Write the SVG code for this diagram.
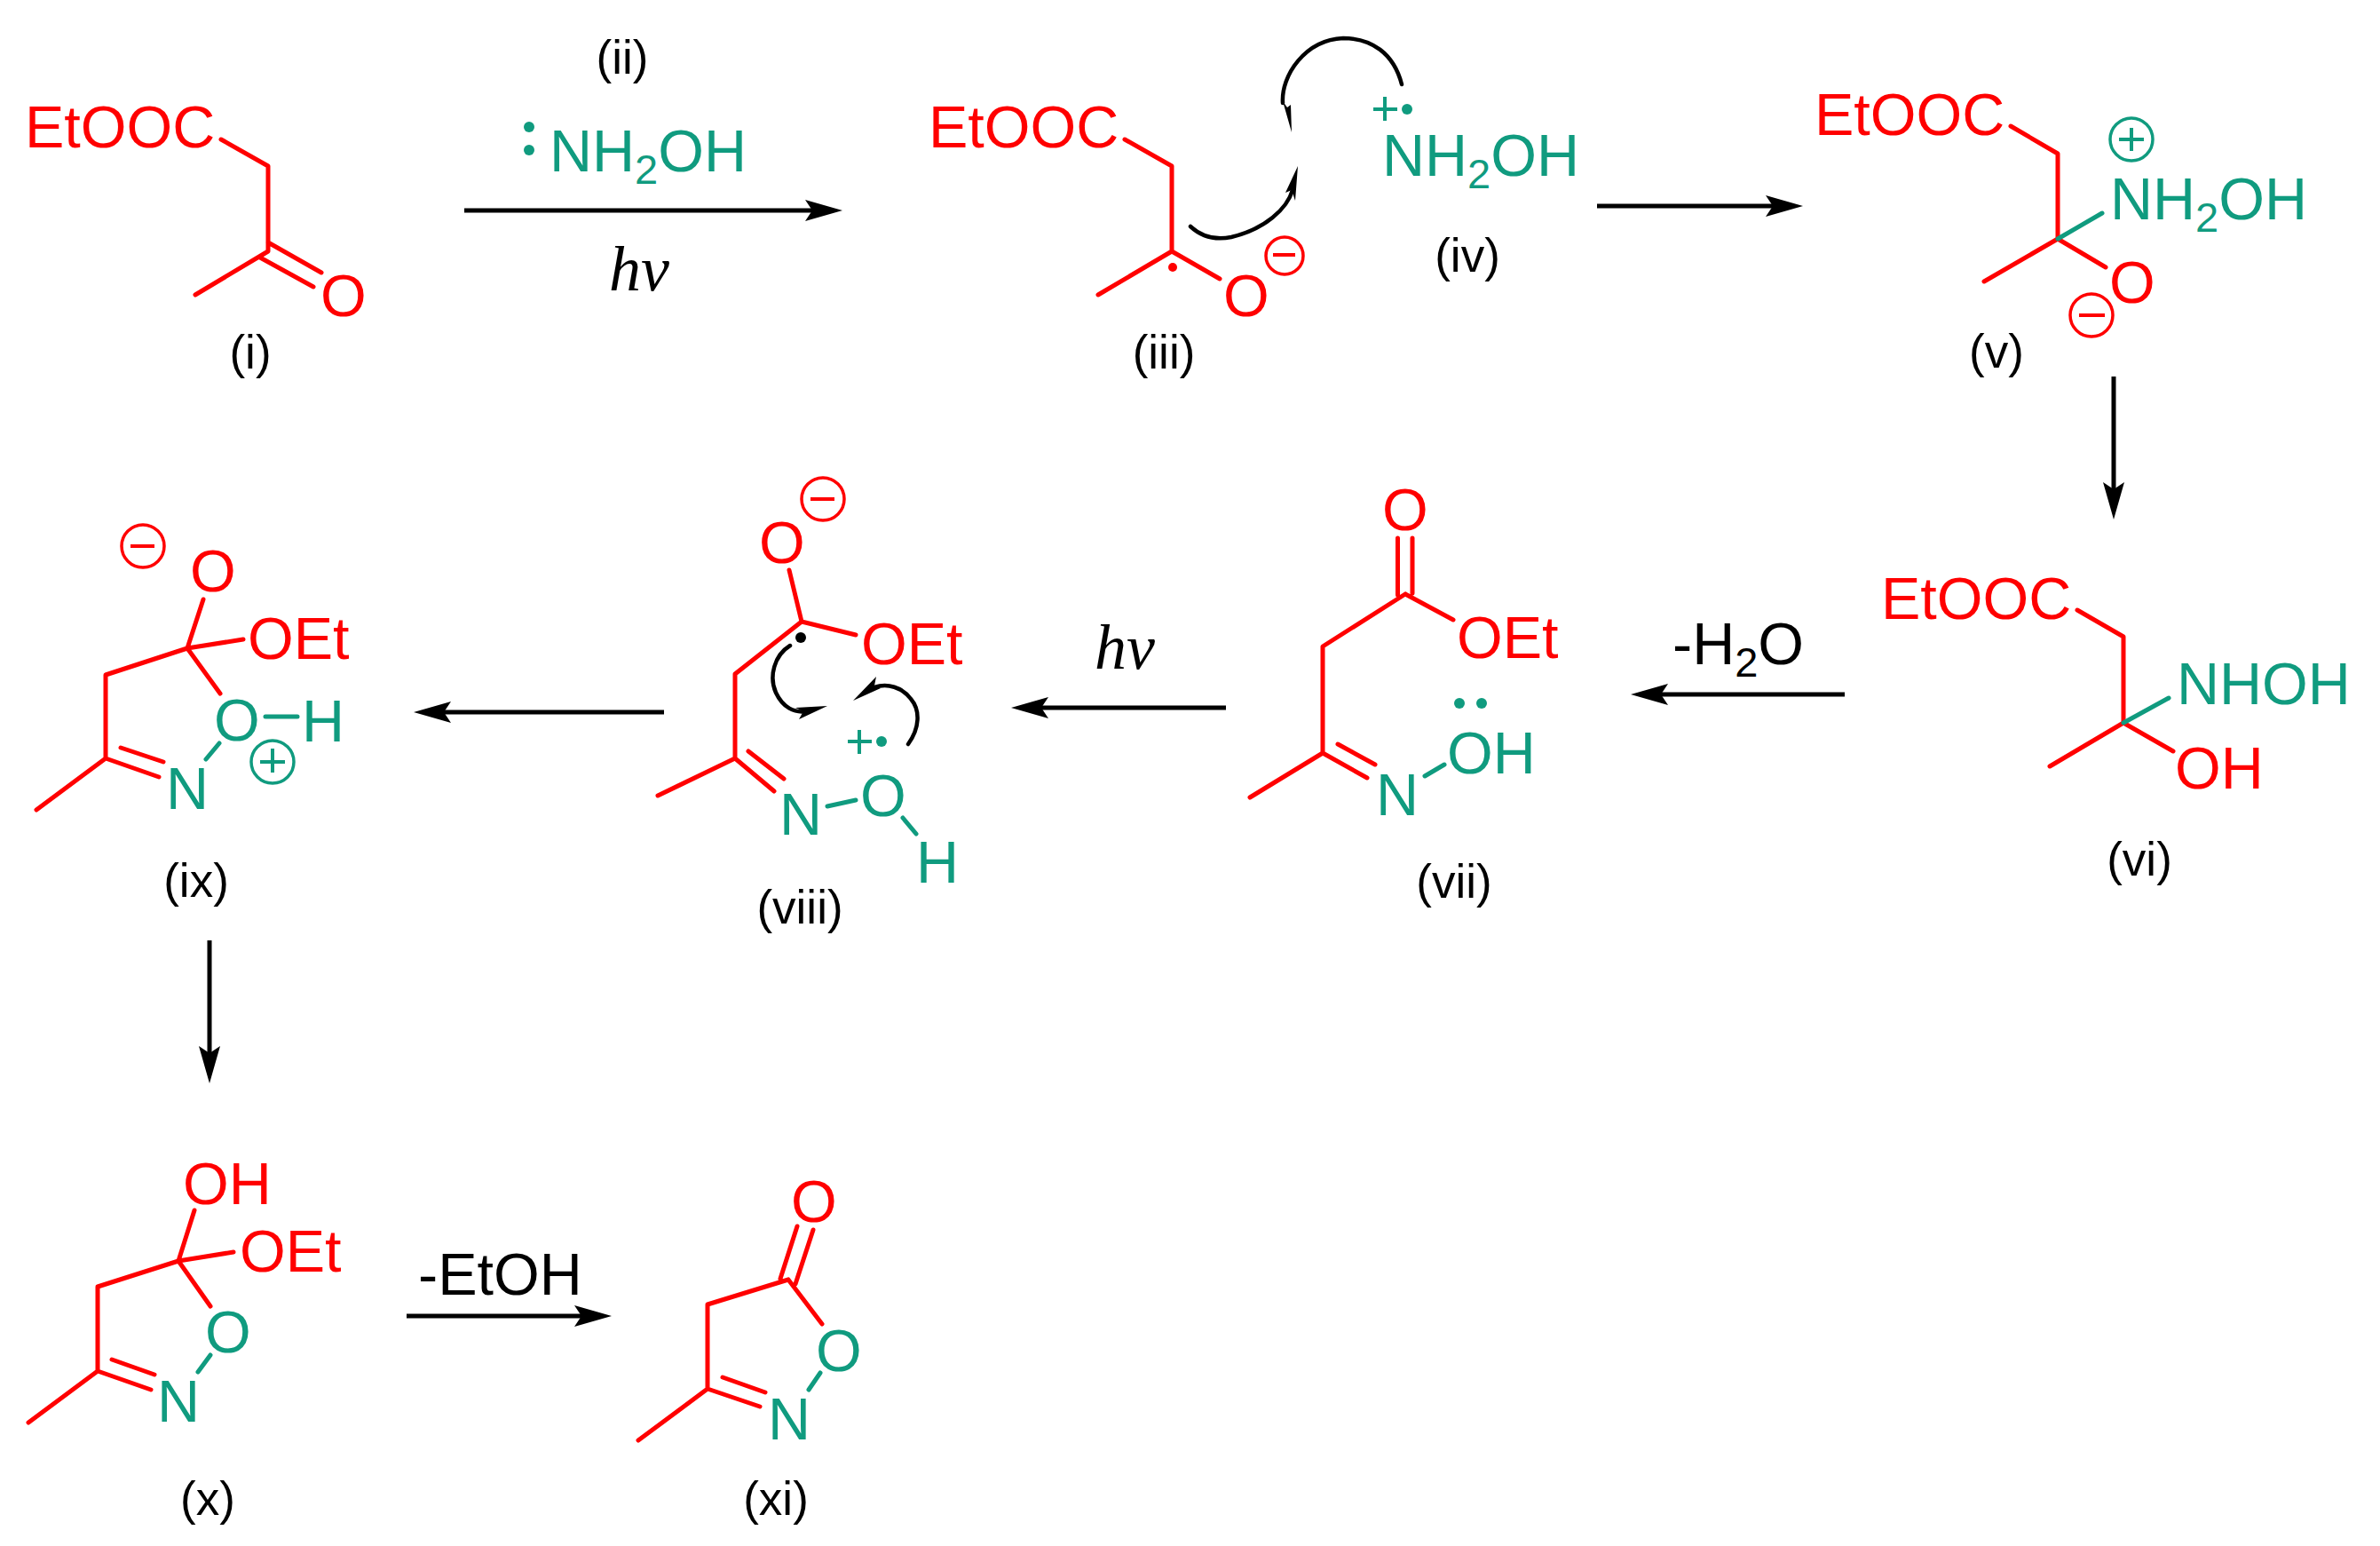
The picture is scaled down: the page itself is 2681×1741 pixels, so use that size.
<svg xmlns="http://www.w3.org/2000/svg" width="2681" height="1741" viewBox="0 0 2681 1741">
<style>
text{font-family:"Liberation Sans",Arial,sans-serif;font-size:66.500px}
.r{fill:#f00}.g{fill:#109b7f}
.lb{font-size:53px;fill:#000;text-anchor:middle}
.k{fill:#000}
.hv{font-family:"Liberation Serif","Times New Roman",serif;font-style:italic;font-size:72px;fill:#000}
.s{font-size:47px}
path.rb{fill:none;stroke:#f00;stroke-width:5;stroke-linecap:round;stroke-linejoin:round}
path.gb{fill:none;stroke:#109b7f;stroke-width:5;stroke-linecap:round}
.rc{fill:none;stroke:#f00;stroke-width:3.500}
.gc{fill:none;stroke:#109b7f;stroke-width:3.500}
.ra{fill:none;stroke:#000;stroke-width:5;marker-end:url(#h)}
.ca{fill:none;stroke:#000;stroke-width:4.500;stroke-linecap:round}
</style>
<defs>
<marker id="h" markerUnits="userSpaceOnUse" viewBox="0 0 42 24" refX="12" refY="12" markerWidth="42" markerHeight="24" orient="auto"><path d="M0 0L42 12L0 24L8 12Z" fill="#000"/></marker>
</defs>
<g id="connectors">
<path class="ra" d="M523 237H919"/>
<path class="ra" d="M1799 232H2001"/>
<path class="ra" d="M2381 424V555"/>
<path class="ra" d="M2078 782H1867"/>
<path class="ra" d="M1381 797H1169"/>
<path class="ra" d="M748 802H496"/>
<path class="ra" d="M236 1059V1190"/>
<path class="ra" d="M458 1482H659"/>
<path class="ca" d="M1341 255C1355 268 1372 270 1387 267C1425 258 1450 235 1456 214"/>
<path class="k" d="M1462 187L1459 226L1455 214L1448 217Z"/>
<path class="ca" d="M1579 95C1570 60 1545 43 1513 43C1470 45 1443 85 1445 116"/>
<path class="k" d="M1455 149L1445 114L1450 121L1454 118Z"/>
<path class="ca" d="M890 727C872 738 866 762 874 780C882 797 895 803 908 801"/>
<path class="k" d="M932 795L900 810L905 801L896 797Z"/>
<path class="ca" d="M1023 838C1036 820 1037 800 1026 787C1016 774 1000 769 985 774"/>
<path class="k" d="M961 789L987 762L985 772L992 775Z"/>
</g>
<g id="node-i">
<text class="r" x="28" y="166">EtOOC</text>
<path class="rb" d="M249 157L302 187V283L220 332M302 273L362 307M293 290L353 323"/>
<text class="r" x="361" y="356">O</text>
<text class="lb" x="282" y="415">(i)</text>
</g>
<g id="node-ii">
<text class="lb" x="701" y="83">(ii)</text>
<circle class="g" cx="596" cy="143" r="6"/><circle class="g" cx="596" cy="169" r="6"/>
<text class="g" x="619" y="193">NH<tspan class="s" dy="14">2</tspan><tspan dy="-14">OH</tspan></text>
<text class="hv" x="686" y="327">hν</text>
</g>
<g id="node-iii">
<text class="r" x="1046" y="166">EtOOC</text>
<path class="rb" d="M1267 157L1320 187V283L1237 332M1320 283L1374 314"/>
<circle class="r" cx="1321" cy="301" r="5"/>
<text class="r" x="1378" y="356">O</text>
<circle class="rc" cx="1447" cy="288" r="21"/><path d="M1434 287H1459" stroke="#f00" stroke-width="4"/>
<text class="lb" x="1311" y="415">(iii)</text>
</g>
<g id="node-iv">
<path d="M1547 123H1574M1560 109V136" stroke="#109b7f" stroke-width="4"/>
<circle class="g" cx="1585" cy="123" r="6"/>
<text class="g" x="1557" y="198">NH<tspan class="s" dy="14">2</tspan><tspan dy="-14">OH</tspan></text>
<text class="lb" x="1653" y="306">(iv)</text>
</g>
<g id="node-v">
<text class="r" x="2044" y="152">EtOOC</text>
<path class="rb" d="M2265 142L2318 173V269L2235 317M2318 269L2372 301"/>
<path class="gb" d="M2318 269L2368 240"/>
<text class="r" x="2376" y="341">O</text>
<circle class="rc" cx="2356" cy="355" r="24"/><path d="M2342 355H2371" stroke="#f00" stroke-width="4"/>
<circle class="gc" cx="2401" cy="157" r="24"/><path d="M2387 157H2415M2401 144V170" stroke="#109b7f" stroke-width="4"/>
<text class="g" x="2377" y="247">NH<tspan class="s" dy="14">2</tspan><tspan dy="-14">OH</tspan></text>
<text class="lb" x="2249" y="414">(v)</text>
</g>
<g id="node-vi">
<text class="r" x="2119" y="697">EtOOC</text>
<path class="rb" d="M2340 687L2392 717V814L2309 863M2392 814L2448 846"/>
<path class="gb" d="M2392 814L2443 786"/>
<text class="g" x="2452" y="793">NHOH</text>
<text class="r" x="2450" y="888">OH</text>
<text class="lb" x="2410" y="986">(vi)</text>
</g>
<g id="label-h2o">
<text class="k" x="1884" y="748">-H<tspan class="s" dy="14">2</tspan><tspan dy="-14">O</tspan></text>
</g>
<g id="node-vii">
<text class="r" x="1557" y="597">O</text>
<path class="rb" d="M1574.500 606V670M1591 606V668M1583 669L1490 728V848L1408 898M1583 669L1637 698M1490 848L1540 876M1507 838L1549 861"/>
<text class="g" x="1550" y="918">N</text>
<path class="gb" d="M1605 874L1627 861"/>
<text class="r" x="1641" y="741">OEt</text>
<circle class="g" cx="1644" cy="792" r="6"/><circle class="g" cx="1669" cy="792" r="6"/>
<text class="g" x="1630" y="871">OH</text>
<text class="lb" x="1638" y="1011">(vii)</text>
<text class="hv" x="1233" y="753">hν</text>
</g>
<g id="node-viii">
<circle class="rc" cx="927" cy="562" r="24"/><path d="M913 562H940" stroke="#f00" stroke-width="4"/>
<text class="r" x="855" y="634">O</text>
<path class="rb" d="M889 642L903 700L828 759V854L741 896M903 700L964 715M828 854L872 891M843 846L883 877"/>
<circle class="k" cx="902" cy="718" r="6"/>
<text class="r" x="970" y="748">OEt</text>
<path d="M955 835H982M968 822V849" stroke="#109b7f" stroke-width="4"/>
<circle class="g" cx="993" cy="835" r="6"/>
<text class="g" x="878" y="940">N</text>
<path class="gb" d="M932 908L964 901M1017 921L1032 939"/>
<text class="g" x="969" y="919">O</text>
<text class="g" x="1032" y="994">H</text>
<text class="lb" x="901" y="1040">(viii)</text>
</g>
<g id="node-ix">
<circle class="rc" cx="161" cy="615" r="24"/><path d="M147 615H174" stroke="#f00" stroke-width="4"/>
<text class="r" x="214" y="666">O</text>
<path class="rb" d="M229 675L211 730L119 760V854L41 912M211 730L274 720M211 730L248 781M119 854L179 875M136 842L184 858"/>
<text class="r" x="279" y="742">OEt</text>
<text class="g" x="241" y="834">O</text>
<path class="gb" d="M299 807H335M232 855L247 837"/>
<text class="g" x="340" y="835">H</text>
<circle class="gc" cx="307" cy="858" r="24"/><path d="M293 858H321M307 843V870" stroke="#109b7f" stroke-width="4"/>
<text class="g" x="187" y="911">N</text>
<text class="lb" x="221" y="1010">(ix)</text>
</g>
<g id="node-x">
<text class="r" x="206" y="1356">OH</text>
<path class="rb" d="M219 1363L201 1420L110 1449V1544L32 1602M201 1420L263 1410M201 1420L237 1471M110 1544L170 1565M126 1531L174 1548"/>
<text class="r" x="270" y="1432">OEt</text>
<text class="g" x="231" y="1523">O</text>
<path class="gb" d="M237 1526L223 1545"/>
<text class="g" x="177" y="1601">N</text>
<text class="lb" x="234" y="1706">(x)</text>
</g>
<g id="label-etoh">
<text class="k" x="471" y="1458">-EtOH</text>
</g>
<g id="node-xi">
<text class="r" x="891" y="1376">O</text>
<path class="rb" d="M898 1381L879 1440M916 1385L896 1446M888 1441L797 1469V1564L719 1622M888 1441L926 1491M797 1564L856 1584M814 1551L862 1568"/>
<text class="g" x="919" y="1544">O</text>
<path class="gb" d="M924 1546L911 1565"/>
<text class="g" x="865" y="1621">N</text>
<text class="lb" x="874" y="1706">(xi)</text>
</g>
</svg>
